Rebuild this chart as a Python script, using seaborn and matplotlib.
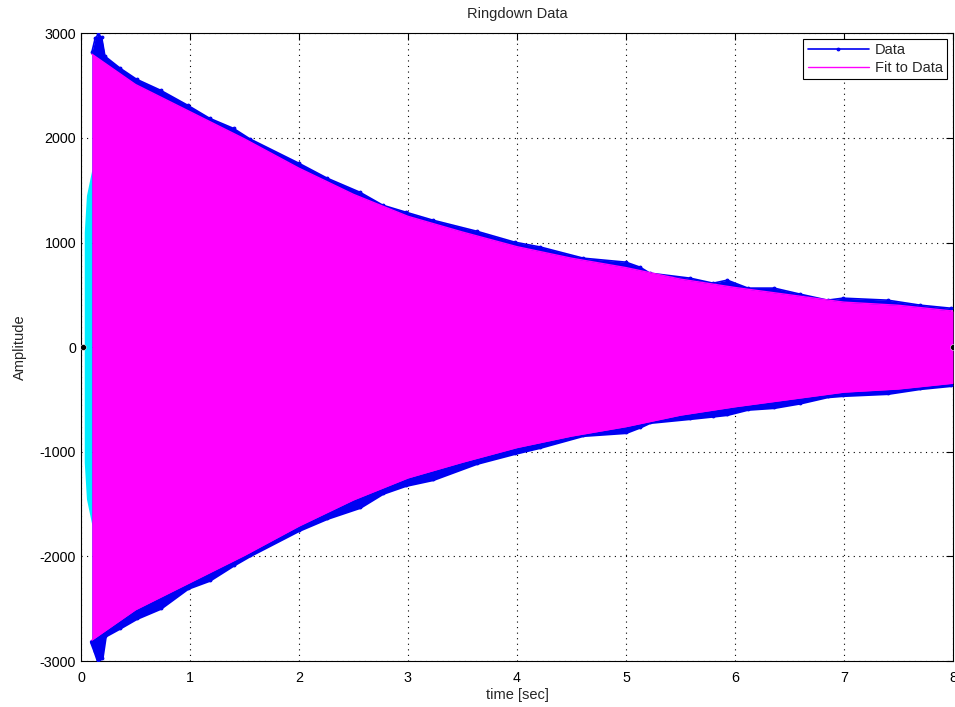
import numpy as np
import pandas as pd
import seaborn as sns
from matplotlib import pyplot as plt

data_t = [0.10, 0.13, 0.16, 0.19, 0.22, 0.36, 0.51, 0.73, 0.98, 1.18, 1.40, 1.55,
          2.00, 2.26, 2.56, 2.77, 2.98, 3.23, 3.63, 3.98, 4.21, 4.61, 5.00, 5.13,
          5.22, 5.59, 5.80, 5.93, 6.12, 6.36, 6.60, 6.85, 6.99, 7.40, 7.70, 7.98]
data_upper = [2820, 2950, 2990, 2960, 2780, 2665, 2560, 2455, 2311, 2187, 2090, 1990,
              1757, 1614, 1480, 1356, 1290, 1213, 1108, 1003, 958, 850, 812, 764,
              707, 659, 611, 640, 564, 564, 506, 449, 468, 449, 401, 372]
data_lower = [-2818, -2900, -2990, -2970, -2760, -2680, -2590, -2493, -2302, -2225, -2080, -1990,
              -1748, -1633, -1528, -1394, -1318, -1262, -1108, -1012, -955, -840, -812, -760,
              -716, -678, -655, -640, -590, -573, -530, -470, -458, -439, -392, -363]

# envelope of the fitted decay
fit_t = [0.10, 0.5, 1.0, 1.5, 2.0, 2.5, 3.0, 3.5, 4.0, 4.5, 5.0, 5.5, 6.0, 6.5, 7.0, 7.5, 8.0]
fit_upper = [2800, 2510, 2250, 1990, 1710, 1460, 1250, 1100, 960, 850, 760, 650, 570, 500, 430, 400, 345]
fit_lower = [-2800, -2510, -2250, -1990, -1710, -1460, -1250, -1100, -960, -850, -760, -650, -570, -500, -430, -400, -345]

# pre-trigger segment (cyan)
pre_t = [0.03, 0.05, 0.08, 0.10]
pre_upper = [1100, 1450, 1600, 1700]
pre_lower = [-1100, -1450, -1600, -1700]

# black end markers on the zero line
end_t = [0.02, 8.0]
end_v = [0, 0]

xticks = [0, 1, 2, 3, 4, 5, 6, 7, 8]
yticks = [-3000, -2000, -1000, 0, 1000, 2000, 3000]

sns.set_style("white")
plt.rcParams['font.family'] = ['Liberation Sans', 'DejaVu Sans']
plt.rcParams['axes.unicode_minus'] = False

fig = plt.figure(figsize=(9.55, 7.07), dpi=100)
ax = fig.add_axes([0.0848, 0.065, 0.913, 0.888])

blue = (0.0, 0.0, 0.95)
mag = (1.0, 0.0, 1.0)
cyan = (0.0, 0.92, 1.0)

D = pd.DataFrame({'t': data_t, 'up': data_upper, 'lo': data_lower})
F = pd.DataFrame({'t': fit_t, 'up': fit_upper, 'lo': fit_lower})

ax.fill_between(pre_t, pre_lower, pre_upper, color=cyan, lw=0, zorder=2)
ax.fill_between(D['t'], D['lo'], D['up'], color=blue, lw=0, zorder=3)
sns.lineplot(data=D, x='t', y='up', color=blue, marker='.', markersize=4, lw=3,
             markeredgecolor=blue, label='Data', ax=ax, zorder=3)
sns.lineplot(data=D, x='t', y='lo', color=blue, marker='.', markersize=4, lw=3,
             markeredgecolor=blue, ax=ax, zorder=3)
ax.fill_between(F['t'], F['lo'], F['up'], color=mag, lw=0, zorder=4)
sns.lineplot(data=F, x='t', y='up', color=mag, lw=1, label='Fit to Data', ax=ax, zorder=4)
sns.lineplot(data=F, x='t', y='lo', color=mag, lw=1, ax=ax, zorder=4)
sns.scatterplot(x=end_t, y=end_v, color='black', s=18, marker='o', ax=ax, zorder=5, legend=False)

ax.set_xlim(0, 8)
ax.set_ylim(-3000, 3000)
ax.set_xticks(xticks)
ax.set_yticks(yticks)
ax.grid(True, color='black', linestyle=(0, (1, 4)), linewidth=0.8)
ax.tick_params(direction='in', length=5, top=True, right=True, labelsize=10.3, colors='black')
ax.tick_params(axis='x', pad=7)
for s in ax.spines.values():
    s.set_color('black')
    s.set_linewidth(0.8)

ax.set_title('Ringdown Data', fontsize=10.5, pad=11)
ax.set_xlabel('time [sec]', fontsize=10.5, labelpad=2)
ax.set_ylabel('Amplitude', fontsize=10.5, labelpad=9)

handles, labels = ax.get_legend_handles_labels()
handles[0].set_linewidth(1.2)
leg = ax.legend(handles, labels, loc='upper right', fontsize=10.5, fancybox=False, framealpha=1,
                edgecolor='black', borderaxespad=0.4, handlelength=4.2, handletextpad=0.4,
                borderpad=0.3, labelspacing=0.25)
leg.get_frame().set_linewidth(0.8)

fig.savefig('out.png', dpi=100)
